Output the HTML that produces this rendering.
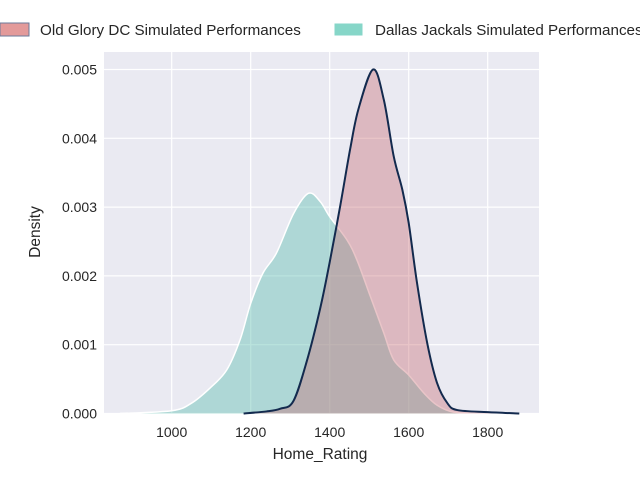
<!DOCTYPE html>
<html><head><meta charset="utf-8"><style>
body{margin:0;background:#fff;}
svg{display:block;font-family:"Liberation Sans","DejaVu Sans",sans-serif;}
</style></head><body>
<svg id="chart" width="640" height="480" viewBox="0 0 640 480">
<rect x="104" y="52" width="435" height="361.5" fill="#eaeaf2"/>
<g id="grid"></g>
<g id="series"></g>
<g id="ticks"></g>
<text x="320" y="459" text-anchor="middle" font-size="15.5" fill="#262626">Home_Rating</text>
<text transform="translate(40,232) rotate(-90)" text-anchor="middle" font-size="15.5" fill="#262626">Density</text>
<g>
<g>
<rect x="0" y="23" width="29" height="13" fill="#e39a9a" stroke="#6b7a9a" stroke-width="1"/>
<text x="40" y="35" font-size="15.2" fill="#262626">Old Glory DC Simulated Performances</text></g>
<g>
<rect x="334" y="23" width="29" height="13" fill="#86d6c8" stroke="#fff" stroke-width="1"/>
<text x="375" y="35" font-size="15.2" fill="#262626">Dallas Jackals Simulated Performances</text></g>
</g>
</svg>
<script>
const xTicks=[1000,1200,1400,1600,1800];
const yTicks=[0,0.001,0.002,0.003,0.004,0.005];
const yTickLabels=["0.000","0.001","0.002","0.003","0.004","0.005"];
const dallasX=[869,1000,1050,1097,1139,1173,1200,1231,1265,1308,1346,1376,1400,1444,1469,1503,1537,1562,1600,1638,1672,1714,1780,1880];
const dallasY=[0,0.00004,0.00015,0.00037,0.00063,0.00107,0.0016,0.00204,0.00233,0.0029,0.0032,0.00308,0.00286,0.00252,0.00223,0.0017,0.00117,0.00078,0.00056,0.0003,0.00012,0.00002,0.000005,0];
const gloryX=[1182,1240,1275,1308,1342,1376,1400,1427,1452,1473,1510,1537,1562,1584,1600,1621,1647,1672,1698,1723,1800,1880];
const gloryY=[0,0.00003,0.00007,0.00018,0.00076,0.00153,0.0022,0.00303,0.00385,0.00443,0.005,0.00456,0.00374,0.00325,0.00277,0.0019,0.00102,0.00044,0.00015,0.00005,0.00002,0];
const NS='http://www.w3.org/2000/svg';
const xS=v=>171.7+(v-1000)*0.395;
const yS=v=>413.5-v*68800;
function mk(tag,attrs,parent){const e=document.createElementNS(NS,tag);for(const k in attrs)e.setAttribute(k,attrs[k]);parent.appendChild(e);return e;}
const grid=document.getElementById('grid'),ticks=document.getElementById('ticks'),series=document.getElementById('series');
xTicks.forEach(t=>{
 const l=mk('line',{x1:xS(t),x2:xS(t),y1:52,y2:413.5,stroke:'#fff','stroke-width':1.2},grid);
 
 
 const tx=mk('text',{x:xS(t),y:437,'text-anchor':'middle','font-size':14,fill:'#262626'},ticks);
 tx.textContent=t;
 
 
});
yTicks.forEach((t,i)=>{
 const l=mk('line',{x1:104,x2:539,y1:yS(t),y2:yS(t),stroke:'#fff','stroke-width':1.2},grid);
 
 
 const tx=mk('text',{x:97,y:yS(t)+5,'text-anchor':'end','font-size':14,fill:'#262626'},ticks);
 tx.textContent=yTickLabels[i];
 
 
});
function smooth(xs,ys){
 const p=xs.map((x,i)=>[xS(x),yS(ys[i])]);
 let d='M'+p[0][0]+','+p[0][1];
 for(let i=0;i<p.length-1;i++){
  const p0=p[Math.max(0,i-1)],p1=p[i],p2=p[i+1],p3=p[Math.min(p.length-1,i+2)];
  const c1=[p1[0]+(p2[0]-p0[0])/6,p1[1]+(p2[1]-p0[1])/6];
  const c2=[p2[0]-(p3[0]-p1[0])/6,p2[1]-(p3[1]-p1[1])/6];
  d+=`C${c1[0]},${c1[1]} ${c2[0]},${c2[1]} ${p2[0]},${p2[1]}`;
 }
 return d;
}
function drawSeries(xs,ys,fill,stroke,sw,name){
 const line=smooth(xs,ys);
 const a=mk('path',{d:line+`L${xS(xs[xs.length-1])},${yS(0)}L${xS(xs[0])},${yS(0)}Z`,fill:fill,stroke:'none'},series);
 
 
 const l=mk('path',{d:line,fill:'none',stroke:stroke,'stroke-width':sw,'stroke-linejoin':'round'},series);
 
 
}
drawSeries(dallasX,dallasY,'rgba(102,194,180,0.45)','#ffffff',1.5,'dallas-jackals-kde');
drawSeries(gloryX,gloryY,'rgba(199,111,117,0.4)','#132a4e',2,'old-glory-kde');
</script>
</body></html>
